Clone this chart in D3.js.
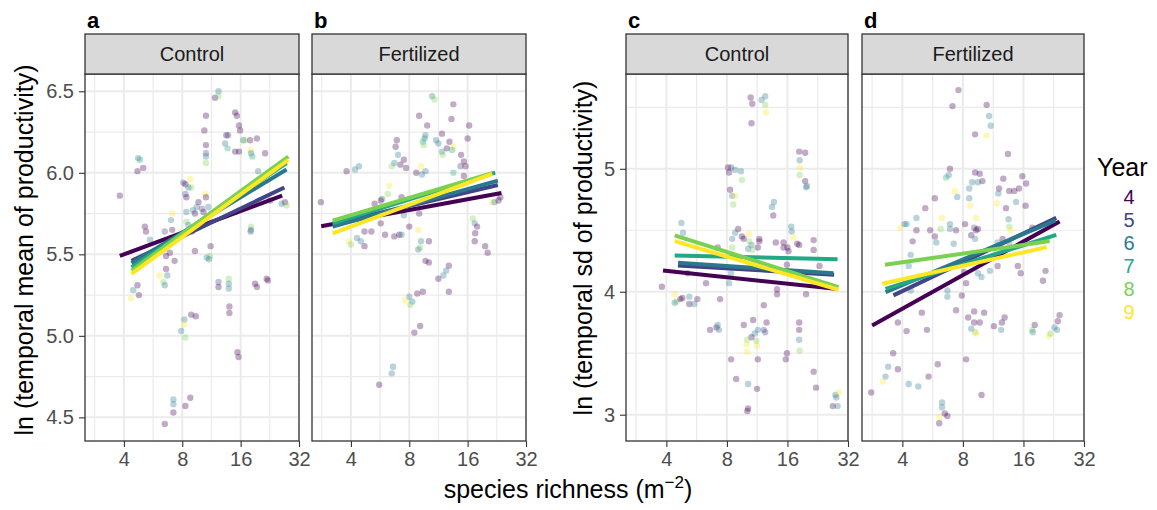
<!DOCTYPE html>
<html>
<head>
<meta charset="utf-8">
<title>Richness vs productivity</title>
<script src="https://d3js.org/d3.v7.min.js"></script>
<style>
  body { margin: 0; background: #fff; }
  svg { font-family: "Liberation Sans", Arial, sans-serif; }
  .axis path.domain { display: none; }
  .axis line { stroke: #333333; stroke-width: 1.1; }
  .axis text { fill: #4d4d4d; font-size: 20px; }
</style>
</head>
<body>
<script>
//---------------------------- DATA ----------------------------//
const years = [4, 5, 6, 7, 8, 9];
const yearColors = ["#440154", "#414487", "#2A788E", "#22A884", "#7AD151", "#FDE725"];
const xTicks = [4, 8, 16, 32];
const meanTicks = [4.5, 5.0, 5.5, 6.0, 6.5];
const sdTicks = [3, 4, 5];
const panelLetters = ["a", "b", "c", "d"];
const stripLabels = ["Control", "Fertilized", "Control", "Fertilized"];

// points: [species richness, ln value, year]
const meanControl = [
  [12.3,6.50,6],[11.8,6.46,4],[12.3,6.47,8],[10.6,6.35,4],[15.0,6.37,4],[15.3,6.35,4],[15.7,6.29,4],[10.4,6.26,4],
  [15.9,6.26,4],[13.5,6.23,4],[13.8,6.23,5],[13.3,6.18,6],[13.7,6.15,7],[10.6,6.17,4],[16.5,6.20,6],[16.8,6.20,8],
  [17.9,6.20,4],[19.4,6.21,4],[15.0,6.13,4],[15.7,6.13,4],[18.0,6.14,9],[18.1,6.12,6],[18.4,6.10,7],[21.4,6.12,4],
  [10.6,6.12,5],[10.6,6.10,6],[10.6,6.06,8],[4.74,6.09,6],[4.84,6.08,7],[4.70,6.01,4],[5.03,6.03,4],[19.7,6.01,6],
  [8.1,5.94,5],[8.3,5.93,4],[8.8,5.96,9],[8.9,5.91,8],[8.6,5.91,6],[8.3,5.87,5],[8.4,5.85,4],[3.81,5.86,4],
  [10.5,5.87,9],[10.6,5.85,4],[9.7,5.82,4],[9.5,5.79,6],[10.1,5.78,5],[10.3,5.76,4],[9.1,5.77,6],[8.4,5.76,6],
  [9.3,5.75,4],[10.9,5.79,6],[27.1,5.82,4],[27.6,5.80,8],[26.0,5.81,6],[22.7,5.83,4],
  [7.1,5.75,9],[7.0,5.71,6],[8.4,5.70,8],[8.6,5.68,6],[5.13,5.67,4],[5.2,5.64,4],[6.5,5.64,5],[7.1,5.65,4],
  [5.45,5.59,6],[18.1,5.67,8],[18.0,5.64,5],[18.1,5.65,6],[9.0,5.64,4],
  [11.2,5.55,4],[9.3,5.52,4],[6.6,5.49,4],[6.9,5.51,4],[7.3,5.46,4],[10.7,5.48,6],[11.1,5.49,8],[11.0,5.47,6],
  [6.6,5.41,4],[6.1,5.37,9],[6.7,5.37,6],[6.4,5.33,8],[6.5,5.31,6],[4.7,5.31,4],[4.47,5.28,6],[4.78,5.25,4],[4.35,5.23,9],
  [12.3,5.33,5],[12.3,5.30,4],[13.9,5.35,8],[13.9,5.32,6],[13.9,5.29,6],[19.0,5.32,4],[19.4,5.30,4],[21.8,5.35,4],
  [22.1,5.34,4],[14.0,5.18,4],[14.0,5.14,4],[8.9,5.13,4],[9.4,5.12,4],[8.2,5.10,6],[8.2,5.07,9],[7.9,5.03,6],
  [8.3,4.99,8],[15.4,4.90,4],[15.6,4.87,4],
  [7.2,4.61,6],[7.2,4.58,6],[8.8,4.62,4],[8.3,4.57,4],[7.2,4.53,4],[6.5,4.46,4]
];

const meanFertilized = [
  [10.5,6.47,6],[10.8,6.45,8],[13.5,6.42,4],[9.0,6.35,4],[13.2,6.33,4],[9.9,6.29,4],[16.3,6.29,4],[11.8,6.24,4],
  [16.0,6.21,4],[9.7,6.23,6],[9.6,6.21,6],[9.4,6.19,7],[9.5,6.17,8],[6.9,6.20,4],[6.8,6.16,4],[11.0,6.20,6],
  [11.3,6.18,6],[12.9,6.19,4],[12.5,6.15,4],[13.5,6.16,9],[13.3,6.14,7],[11.8,6.13,6],[11.9,6.11,8],[7.0,6.11,6],
  [6.7,6.06,6],[6.5,6.04,8],[7.2,6.05,4],[7.5,6.08,4],[7.7,6.03,4],[9.2,6.04,9],[14.8,6.11,4],[15.3,6.07,4],
  [14.7,6.04,5],[15.6,6.04,4],[4.4,6.04,6],[4.2,6.02,6],[3.8,6.01,4],[8.7,6.00,4],[9.3,5.99,6],[9.7,6.01,6],
  [13.5,6.00,7],[15.3,5.98,4],[2.8,5.82,4],[6.3,5.92,9],[6.2,5.87,8],[5.8,5.84,6],[5.3,5.81,4],[5.7,5.83,4],
  [7.3,5.85,4],[7.5,5.74,6],[9.0,5.75,4],[21.4,5.82,9],[22.0,5.82,6],[23.6,5.85,4],[23.1,5.83,4],[5.7,5.69,4],
  [8.0,5.67,4],[8.9,5.65,9],[17.0,5.72,8],[17.4,5.69,6],[17.9,5.67,4],[17.5,5.63,4],[17.4,5.58,4],[19.7,5.55,4],
  [20.3,5.51,4],[3.9,5.58,9],[4.0,5.56,8],[4.3,5.60,6],[4.5,5.58,6],[4.7,5.64,4],[5.1,5.64,4],[4.7,5.55,4],
  [6.0,5.62,4],[6.7,5.61,4],[7.1,5.62,4],[7.3,5.62,6],[10.1,5.58,4],[9.2,5.58,6],[9.1,5.54,8],[8.9,5.53,6],
  [9.7,5.46,4],[10.1,5.45,4],[12.8,5.43,4],[12.4,5.40,6],[12.0,5.37,6],[11.3,5.35,4],[8.8,5.26,4],[9.4,5.27,4],
  [12.8,5.27,4],[8.0,5.24,6],[7.6,5.22,9],[8.3,5.21,6],[8.1,5.19,8],[9.1,5.06,4],[8.5,5.02,4],[6.6,4.81,6],
  [6.5,4.77,6],[5.6,4.70,4]
];

const sdControl = [
  [10.5,5.58,4],[10.7,5.53,4],[11.9,5.56,6],[12.4,5.59,6],[12.4,5.52,8],[12.5,5.46,9],[10.6,5.37,4],[18.3,5.14,4],
  [19.6,5.13,4],[18.4,5.07,6],[18.5,5.01,9],[18.4,4.95,8],[19.6,4.90,4],[20.0,4.86,6],[19.8,4.85,6],[8.1,5.01,4],
  [8.4,5.01,5],[8.2,4.97,4],[8.8,4.99,6],[9.4,4.98,6],[9.5,4.91,8],[8.3,4.83,4],[8.5,4.78,6],[8.8,4.78,9],
  [8.6,4.71,8],[13.7,4.73,6],[13.4,4.69,6],[13.6,4.62,4],[4.75,4.56,6],[4.84,4.48,6],[9.1,4.51,4],[8.8,4.48,6],
  [8.5,4.43,6],[9.5,4.45,4],[9.7,4.43,4],[10.3,4.47,9],[10.3,4.41,8],[10.6,4.38,6],[11.6,4.43,4],[11.6,4.41,4],
  [11.4,4.36,4],[16.7,4.53,6],[16.8,4.49,6],[17.1,4.44,9],[17.9,4.39,4],[18.3,4.38,4],[14.0,4.40,4],[15.3,4.40,4],
  [15.3,4.36,4],[16.0,4.36,4],[16.2,4.33,4],[21.6,4.42,4],[21.6,4.34,4],[8.5,4.36,8],[10.2,4.35,6],[10.7,4.34,8],
  [7.2,4.36,4],[15.9,4.22,4],[23.1,4.21,4],[5.1,4.15,4],[6.3,4.07,4],[8.2,4.07,6],[8.4,4.15,6],[3.8,4.04,4],
  [14.2,4.02,4],[14.2,3.98,4],[19.8,3.98,4],[4.4,3.98,9],[4.5,3.92,8],[4.4,3.91,6],[4.7,3.94,4],[4.8,3.95,4],
  [5.2,3.96,6],[5.2,3.90,4],[5.5,3.90,6],[5.7,3.94,4],[7.4,3.94,4],[12.2,3.89,4],[10.8,3.77,4],[12.6,3.75,4],
  [9.7,3.73,4],[6.6,3.69,4],[7.1,3.71,4],[7.2,3.73,6],[7.3,3.69,6],[11.4,3.69,6],[12.2,3.69,5],[12.4,3.67,5],
  [11.0,3.66,6],[10.6,3.63,4],[10.1,3.61,8],[11.2,3.60,8],[10.0,3.57,9],[11.3,3.56,9],[18.3,3.75,4],[18.3,3.69,4],
  [18.3,3.61,6],[18.4,3.52,8],[15.9,3.50,4],[15.7,3.45,4],[8.4,3.45,4],[10.1,3.51,9],[11.4,3.45,4],[8.9,3.29,4],
  [10.2,3.25,6],[11.3,3.21,4],[21.6,3.35,4],[22.2,3.22,4],[27.7,3.16,6],[28.7,3.18,9],[28.0,3.14,6],[26.9,3.07,4],
  [28.4,3.07,6],[10.2,3.05,4],[10.1,3.03,4]
];

const sdFertilized = [
  [7.6,5.64,4],[7.1,5.51,4],[10.5,5.52,4],[10.8,5.43,6],[11.0,5.35,6],[9.2,5.28,4],[10.5,5.27,9],[13.4,5.12,4],
  [6.9,5.00,4],[6.8,4.95,6],[6.6,4.93,7],[9.2,4.97,4],[9.7,4.96,4],[8.9,4.89,6],[9.5,4.89,6],[10.0,4.90,4],
  [8.6,4.84,6],[7.3,4.82,9],[7.5,4.77,6],[5.8,4.76,4],[8.6,4.76,6],[8.7,4.70,9],[5.2,4.68,4],[12.1,4.84,4],
  [12.0,4.80,6],[11.8,4.72,9],[12.7,4.92,4],[15.8,4.94,4],[16.5,4.88,4],[13.6,4.82,4],[14.4,4.82,4],[15.2,4.84,4],
  [14.7,4.73,6],[16.4,4.70,4],[13.1,4.68,4],[13.5,4.59,6],[13.6,4.53,8],[13.8,4.50,9],[4.7,4.60,6],[6.3,4.60,9],
  [6.9,4.55,6],[9.3,4.60,9],[8.2,4.55,4],[3.9,4.52,9],[4.1,4.55,6],[4.2,4.55,6],[4.7,4.50,4],[5.5,4.50,4],
  [5.8,4.45,4],[5.9,4.40,6],[6.2,4.51,8],[6.9,4.51,6],[7.4,4.50,4],[9.1,4.52,5],[9.3,4.50,4],[9.5,4.51,4],
  [8.8,4.46,4],[9.2,4.43,6],[7.2,4.39,6],[4.5,4.41,4],[17.7,4.52,4],[11.9,4.40,6],[12.6,4.43,4],[13.6,4.40,6],
  [4.4,4.30,6],[4.3,4.21,6],[4.4,4.01,6],[8.1,4.16,4],[9.5,4.15,6],[9.9,4.12,6],[8.3,4.07,4],[10.9,4.17,6],
  [11.9,4.21,4],[15.0,4.21,4],[15.5,4.15,4],[20.6,4.17,4],[20.0,4.09,4],[6.7,4.01,6],[6.7,3.96,6],[7.9,3.97,4],
  [7.4,3.85,4],[5.0,3.83,4],[3.8,3.75,4],[4.2,3.68,4],[5.3,3.69,4],[8.5,3.79,4],[9.1,3.84,4],[10.2,3.83,4],
  [9.1,3.75,4],[9.7,3.75,4],[8.8,3.70,6],[9.2,3.67,8],[9.3,3.66,9],[11.4,3.72,4],[12.5,3.75,4],[12.9,3.79,4],
  [12.4,3.69,6],[17.7,3.69,8],[17.8,3.67,6],[18.2,3.73,4],[21.4,3.64,9],[21.8,3.66,8],[22.8,3.71,6],[23.5,3.69,6],
  [23.7,3.76,4],[24.2,3.81,4],[3.6,3.50,4],[3.4,3.39,6],[3.8,3.37,4],[3.3,3.31,6],[3.2,3.27,9],[2.8,3.18,4],
  [4.3,3.25,6],[4.8,3.23,6],[5.4,3.31,4],[6.0,3.41,4],[8.3,3.45,4],[9.9,3.16,4],[6.3,3.10,6],[6.3,3.06,6],
  [6.5,3.01,4],[6.7,2.99,4],[6.1,2.98,9],[6.1,2.93,4]
];

// fitted lines: [year, richness start, value start, richness end, value end]
const meanControlFits = [
  [4, 3.81, 5.49, 26.2, 5.86],
  [5, 4.38, 5.46, 26.9, 5.91],
  [6, 4.38, 5.445, 27.6, 6.02],
  [7, 4.38, 5.42, 27.6, 6.06],
  [8, 4.38, 5.40, 28.2, 6.10],
  [9, 4.38, 5.38, 28.2, 6.08]
];
const meanFertilizedFits = [
  [4, 2.81, 5.672, 23.9, 5.876],
  [5, 3.22, 5.686, 22.9, 5.925],
  [6, 3.22, 5.670, 22.9, 5.952],
  [7, 3.22, 5.690, 22.2, 6.001],
  [8, 3.22, 5.707, 21.4, 5.997],
  [9, 3.22, 5.629, 21.4, 5.993]
];
const sdControlFits = [
  [4, 3.85, 4.173, 27.7, 4.024],
  [5, 4.57, 4.214, 27.3, 4.138],
  [6, 4.57, 4.235, 27.1, 4.151],
  [7, 4.40, 4.295, 28.4, 4.265],
  [8, 4.40, 4.458, 28.7, 4.037],
  [9, 4.40, 4.412, 28.7, 4.016]
];
const sdFertilizedFits = [
  [4, 2.83, 3.726, 24.2, 4.572],
  [5, 3.61, 3.970, 23.3, 4.601],
  [6, 3.30, 3.997, 23.1, 4.580],
  [7, 3.30, 4.024, 23.3, 4.463],
  [8, 3.28, 4.219, 21.6, 4.412],
  [9, 3.18, 4.065, 20.9, 4.363]
];

//---------------------------- LAYOUT ----------------------------//
const W = 1157, H = 510;
const stripTop = 34, plotTop = 74, plotBottom = 441;
const xDomain = [2.52, 32];

const panels = [
  {left: 85,  right: 299, pts: meanControl,    fits: meanControlFits,    yDomain: [4.355, 6.606], yTicks: meanTicks, fmt: d3.format(".1f"), showY: true},
  {left: 312, right: 526, pts: meanFertilized, fits: meanFertilizedFits, yDomain: [4.355, 6.606], yTicks: meanTicks, fmt: d3.format(".1f"), showY: false},
  {left: 626, right: 848, pts: sdControl,      fits: sdControlFits,      yDomain: [2.786, 5.771], yTicks: sdTicks,   fmt: d3.format("d"),   showY: true},
  {left: 862, right: 1084, pts: sdFertilized,  fits: sdFertilizedFits,   yDomain: [2.786, 5.771], yTicks: sdTicks,   fmt: d3.format("d"),   showY: false}
];

const color = d3.scaleOrdinal().domain(years).range(yearColors);

const svg = d3.select("body").append("svg")
    .attr("width", W)
    .attr("height", H);

// minor grid: geometric midpoints on the log2 axis, half steps on y
const xMinor = xTicks.map(t => t / Math.SQRT2).filter(v => v > xDomain[0]);
function minorLin(ticks, dom) {
  const step = ticks[1] - ticks[0];
  const out = [];
  for (let v = ticks[0] - step / 2; v < dom[1]; v += step) if (v > dom[0]) out.push(v);
  return out;
}

panels.forEach((p, i) => {
  const x = d3.scaleLog().base(2).domain(xDomain).range([p.left, p.right]);
  const y = d3.scaleLinear().domain(p.yDomain).range([plotBottom, plotTop]);
  const g = svg.append("g");

  // grid
  const yMinor = minorLin(p.yTicks, p.yDomain);
  g.append("g").selectAll("line").data(xMinor).join("line")
    .attr("x1", d => x(d)).attr("x2", d => x(d)).attr("y1", plotTop).attr("y2", plotBottom)
    .attr("stroke", "#ebebeb").attr("stroke-width", 1.2);
  g.append("g").selectAll("line").data(yMinor).join("line")
    .attr("x1", p.left).attr("x2", p.right).attr("y1", d => y(d)).attr("y2", d => y(d))
    .attr("stroke", "#ebebeb").attr("stroke-width", 1.2);
  g.append("g").selectAll("line").data(xTicks).join("line")
    .attr("x1", d => x(d)).attr("x2", d => x(d)).attr("y1", plotTop).attr("y2", plotBottom)
    .attr("stroke", "#ebebeb").attr("stroke-width", 2);
  g.append("g").selectAll("line").data(p.yTicks).join("line")
    .attr("x1", p.left).attr("x2", p.right).attr("y1", d => y(d)).attr("y2", d => y(d))
    .attr("stroke", "#ebebeb").attr("stroke-width", 2);

  // points
  g.append("g").selectAll("circle").data(p.pts).join("circle")
    .attr("cx", d => x(d[0]))
    .attr("cy", d => y(d[1]))
    .attr("r", 3.2)
    .attr("fill", d => color(d[2]))
    .attr("fill-opacity", 0.33);

  // fitted lines
  g.append("g").selectAll("line").data(p.fits).join("line")
    .attr("x1", d => x(d[1])).attr("y1", d => y(d[2]))
    .attr("x2", d => x(d[3])).attr("y2", d => y(d[4]))
    .attr("stroke", d => color(d[0]))
    .attr("stroke-width", 4);

  // panel border
  g.append("rect")
    .attr("x", p.left).attr("y", plotTop)
    .attr("width", p.right - p.left).attr("height", plotBottom - plotTop)
    .attr("fill", "none").attr("stroke", "#333333").attr("stroke-width", 1.3);

  // strip
  g.append("rect")
    .attr("x", p.left).attr("y", stripTop)
    .attr("width", p.right - p.left).attr("height", plotTop - stripTop)
    .attr("fill", "#d9d9d9").attr("stroke", "#333333").attr("stroke-width", 1.3);
  g.append("text")
    .attr("x", (p.left + p.right) / 2).attr("y", (stripTop + plotTop) / 2 + 7)
    .attr("text-anchor", "middle")
    .style("font-size", "20px").style("fill", "#1a1a1a")
    .text(stripLabels[i]);

  // panel letter
  g.append("text")
    .attr("x", p.left + 2).attr("y", 28)
    .style("font-size", "22px").style("font-weight", "bold")
    .text(panelLetters[i]);

  // axes
  g.append("g").attr("class", "axis")
    .attr("transform", "translate(0," + plotBottom + ")")
    .call(d3.axisBottom(x).tickValues(xTicks).tickFormat(d3.format("d")).tickSize(6).tickPadding(5));
  if (p.showY) {
    g.append("g").attr("class", "axis")
      .attr("transform", "translate(" + p.left + ",0)")
      .call(d3.axisLeft(y).tickValues(p.yTicks).tickFormat(p.fmt).tickSize(6).tickPadding(5));
  }
});

//---------------------------- TITLES ----------------------------//
svg.append("text")
  .attr("transform", "translate(33,250) rotate(-90)")
  .attr("text-anchor", "middle")
  .style("font-size", "25px")
  .text("ln (temporal mean of productivity)");

svg.append("text")
  .attr("transform", "translate(592,248) rotate(-90)")
  .attr("text-anchor", "middle")
  .style("font-size", "25px")
  .text("ln (temporal sd of productivity)");

const xt = svg.append("text")
  .attr("x", 568).attr("y", 498)
  .attr("text-anchor", "middle")
  .style("font-size", "25px");
xt.append("tspan").text("species richness (m");
xt.append("tspan").attr("dy", -10).style("font-size", "17px").text("\u22122");
xt.append("tspan").attr("dy", 10).text(")");

//---------------------------- LEGEND ----------------------------//
svg.append("text")
  .attr("x", 1097).attr("y", 176)
  .style("font-size", "25px")
  .text("Year");

svg.selectAll(".legend-label").data(years).join("text")
  .attr("class", "legend-label")
  .attr("x", 1129)
  .attr("y", (d, i) => 204 + i * 23)
  .attr("text-anchor", "middle")
  .style("font-size", "20px")
  .style("fill", d => color(d))
  .text(d => d);
</script>
</body>
</html>
